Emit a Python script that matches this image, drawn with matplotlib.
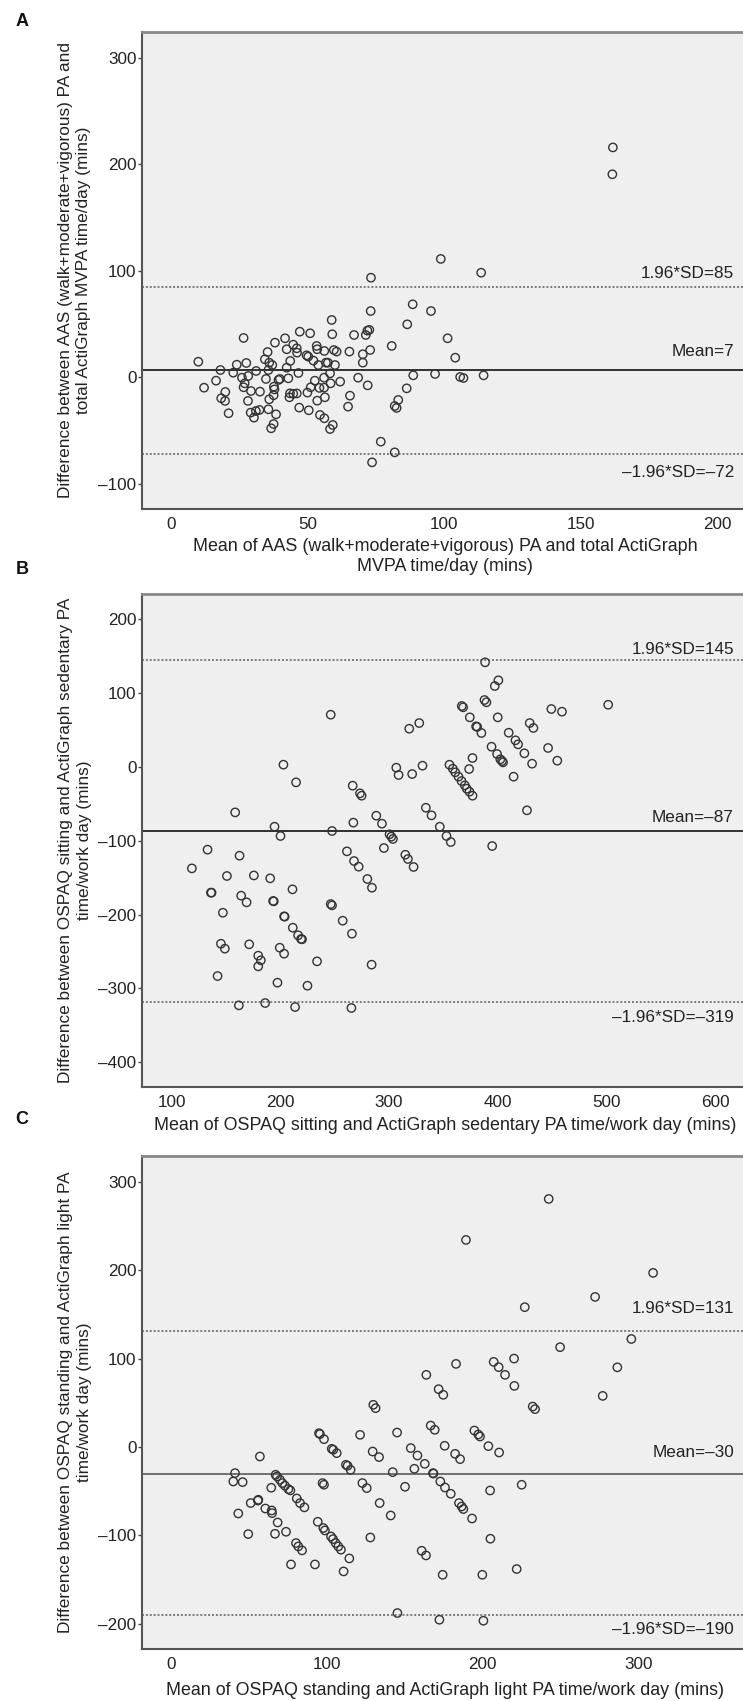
import matplotlib
matplotlib.use("Agg")
import matplotlib.pyplot as plt

plt.rcParams['font.family'] = ['Liberation Sans', 'DejaVu Sans']

# ---- panel A data (mean, difference) ----
a_mean = [9.8, 11.9, 16.3, 17.9, 19.7, 18.2, 19.6, 20.9, 22.6, 23.9, 26.4, 25.8, 26.4, 27.4, 28.1,
          26.8, 29.1, 28.0, 29.0, 30.2, 30.9, 32.2, 31.0, 32.4, 34.2, 35.2, 35.8, 36.9, 35.5, 34.6,
          35.8, 35.5, 37.4, 36.5, 38.3, 37.9, 39.2, 37.5, 37.7, 37.4, 39.7, 41.6, 42.2, 42.2, 42.8,
          43.5, 44.6, 45.9, 46.0, 46.5, 43.4, 43.2, 44.6, 45.9, 46.8, 47.0, 50.8, 49.5, 50.1, 52.0,
          53.2, 53.4, 53.8, 52.5, 51.0, 49.8, 50.3, 53.4, 54.2, 54.4, 56.0, 56.6, 55.9, 55.9, 56.2,
          56.0, 57.3, 58.7, 58.9, 59.5, 60.5, 59.9, 58.1, 58.3, 59.1, 58.1, 61.8, 65.2, 66.9, 65.4,
          64.7, 68.4, 70.1, 70.1, 71.2, 71.8, 72.5, 72.8, 73.0, 71.9, 80.7, 76.7, 81.8, 73.5, 81.8,
          82.5, 83.1, 86.2, 86.4, 88.4, 88.6, 95.1, 96.6, 101.2, 104.0, 105.8, 107.0, 114.4, 98.7,
          73.1, 113.5, 161.8, 161.6]
a_diff = [14.8, -9.6, -3.0, 7.0, -13.6, -19.5, -22.0, -33.6, 4.5, 12.0, 37.1, -0.2, -9.2, 13.6, 1.4,
          -5.5, -12.7, -22.0, -33.0, -37.7, -31.5, -30.5, 6.1, -13.3, 17.1, 23.9, 13.9, 11.7, 7.0, -1.4,
          -20.5, -29.9, -43.7, -47.7, -34.6, 32.7, -2.3, -8.6, -11.2, -16.7, -1.4, 36.8, 26.5, 9.2, -0.8,
          15.5, 30.8, 27.4, 23.3, 4.2, -14.9, -18.6, -15.3, -15.0, -28.3, 43.0, 41.5, 20.8, 19.6, 15.8,
          29.6, 26.5, 11.7, -3.0, -9.2, -14.2, -30.8, -21.8, -9.8, -35.2, 24.9, 13.9, -0.2, -9.6, -18.6,
          -38.3, 13.9, 54.0, 40.6, 25.8, 24.3, 11.7, 3.9, -5.5, -44.6, -48.4, -3.9, 24.3, 39.9, -17.1,
          -27.4, -0.2, 21.8, 13.9, 39.9, 44.0, 44.7, 25.8, 62.4, -7.4, 29.6, -60.3, -70.3, -79.7, -26.8,
          -28.6, -21.1, -10.2, 49.9, 68.7, 2.0, 62.4, 3.3, 36.8, 18.6, 0.5, -0.5, 2.0, 111.3,
          93.7, 98.4, 216.0, 190.8]
a_lines = [85, 7, -72]

# ---- panel B data ----
b_mean = [246.4, 202.9, 214.5, 158.5, 194.7, 200.2, 133.1, 162.5, 118.7, 150.9, 175.7, 190.7, 136.8,
          136.2, 164.0, 169.0, 193.4, 194.0, 211.2, 147.2, 203.5, 204.0, 211.5, 216.4, 219.1, 220.0,
          145.4, 149.0, 171.4, 179.7, 182.1, 179.7, 199.5, 203.5, 233.8, 142.3, 197.4, 225.0, 161.9,
          186.1, 213.6, 265.4, 247.6, 266.6, 273.3, 274.8, 267.2, 288.3, 293.5, 300.5, 302.1, 303.6,
          295.3, 261.3, 267.8, 272.1, 280.1, 284.3, 246.4, 247.6, 257.4, 265.9, 284.0, 306.7, 308.8,
          388.4, 400.6, 397.3, 387.8, 389.6, 366.9, 368.2, 374.3, 400.0, 380.1, 381.1, 385.0, 318.6,
          327.8, 449.3, 459.1, 501.6, 429.4, 432.8, 410.1, 416.3, 418.7, 424.5, 431.6, 446.3, 454.8,
          394.3, 399.4, 402.4, 404.0, 404.9, 414.6, 426.9, 376.8, 373.7, 355.6, 358.7, 360.9, 363.9,
          366.7, 369.7, 371.5, 374.0, 376.8, 321.3, 330.8, 333.9, 339.1, 346.7, 352.9, 356.8, 394.9,
          315.0, 317.4, 322.6]
b_diff = [70.9, 3.2, -20.8, -61.5, -80.9, -93.5, -112.0, -120.2, -137.4, -147.7, -147.0, -150.9, -170.3,
          -170.3, -174.4, -183.4, -181.6, -182.0, -165.8, -197.5, -202.4, -202.8, -217.8, -228.1, -233.1,
          -233.5, -239.5, -246.2, -240.3, -255.7, -262.0, -270.2, -244.9, -253.0, -263.4, -283.3, -292.3,
          -296.4, -323.0, -319.9, -325.3, -326.6, -86.7, -25.3, -35.7, -38.9, -75.4, -66.0, -76.8, -91.2,
          -94.4, -97.5, -109.8, -114.3, -127.4, -135.1, -151.8, -163.6, -185.7, -187.5, -208.3, -225.9,
          -267.9, -0.9, -10.8,
          141.9, 117.5, 109.8, 90.8, 87.7, 82.7, 80.9, 67.3, 67.3, 55.1, 54.4, 46.1, 51.9,
          59.6, 78.6, 75.0, 84.4, 59.6, 52.9, 46.5, 36.2, 30.7, 18.6, 4.5, 25.8, 8.6,
          27.5, 17.6, 10.4, 8.1, 6.3, -13.1, -58.7, 12.2, -2.7, 3.1, -2.3, -7.2, -13.1,
          -19.0, -24.8, -29.4, -33.5, -38.9, -9.5, 1.8, -55.2, -65.5, -80.9, -93.5, -101.7, -107.1,
          -118.9, -124.7, -135.5]
b_lines = [145, -87, -319]

# ---- panel C data ----
c_mean = [40.8, 39.7, 45.7, 56.8, 42.9, 49.3, 50.9, 55.8, 55.5, 60.3, 64.4, 64.6, 64.1, 68.2, 66.5,
          73.6, 66.9, 67.8, 69.7, 71.2, 72.9, 75.1, 76.4, 80.5, 82.6, 85.4, 80.0, 81.5, 83.9, 76.8,
          92.2, 94.8, 95.4, 98.0, 103.0, 104.0, 106.2, 112.1, 113.2, 115.1, 97.1, 98.0, 94.0, 97.6,
          98.6, 102.5, 103.8, 105.5, 107.2, 108.9, 114.3, 110.6, 121.2, 122.7, 125.5, 129.3, 133.4,
          133.8, 127.8, 129.7, 131.2, 145.0, 142.2, 150.1, 140.9, 145.2, 153.8, 158.1, 156.1, 162.8,
          168.1, 168.4, 172.8, 175.8, 179.5, 160.8, 163.6, 174.3, 172.2, 166.6, 169.2, 175.6, 182.3,
          185.5, 184.8, 186.5, 187.6, 193.2, 194.7, 197.2, 198.3, 203.7, 210.6, 204.8, 205.0, 199.8,
          200.5, 221.9, 225.1, 242.5, 189.3, 309.6, 272.3, 227.1, 295.6, 249.8, 286.6, 277.2, 163.8,
          182.9, 171.7, 174.7, 207.1, 210.3, 214.4, 220.2, 220.4, 232.2, 233.7]
c_diff = [-29.4, -38.9, -39.6, -10.6, -75.1, -98.4, -63.3, -59.6, -60.5, -69.5, -71.7, -74.7, -46.0,
          -85.3, -98.1, -95.8, -31.3, -33.2, -37.0, -40.7, -43.7, -47.5, -49.0, -58.1, -63.3, -68.2,
          -108.6, -112.4, -116.9, -132.8, -132.8, 15.8, 14.7, 9.0, -1.9, -3.0, -6.8, -20.0, -21.1,
          -25.7, -40.7, -42.6, -84.5, -91.6, -94.3, -101.1, -104.1, -108.6, -112.4, -116.1, -126.0,
          -140.7, 13.9, -40.7, -46.4, -5.0, -11.3, -63.3, -102.3, 47.9, 44.1, 16.5, -28.3, -44.9,
          -77.4, -187.8, -1.1, -9.5, -24.5, -18.9, -29.4, -30.0, -38.9, -45.7, -52.8, -117.3, -122.6,
          -144.5, -195.4, 24.4, 19.6, 1.5, -7.6, -13.6, -63.3, -67.2, -70.1, -80.8, 18.8, 14.3, 12.0,
          1.1, -6.1, -49.1, -103.7, -144.5, -196.5, -138.0, -42.6, 280.9, 234.5, 197.2, 170.0, 158.4,
          122.4, 113.1, 90.3, 58.0, 81.8, 94.2, 65.6, 59.2, 96.5, 90.5, 81.8, 100.2, 69.3, 45.9, 43.0]
c_lines = [131, -30, -190]

W, H = 743, 1701
fig = plt.figure(figsize=(W / 100, H / 100), dpi=100)


def fy(py):
    return 1 - py / H


def panel(top, bottom, x, y, lines, xlim, ylim, xticks, yticks, xlabel, ylabel,
          letter, letter_y, xlabel_y, offs, mean_color):
    ax = fig.add_axes([142 / W, fy(bottom), (W - 142) / W, (bottom - top) / H])
    ax.set_facecolor('#efefef')
    ax.scatter(x, y, s=36, facecolors='none', edgecolors='#333333', linewidths=1.0, zorder=3)
    sd_hi, mean, sd_lo = lines
    ax.axhline(sd_hi, color='#7a7a7a', lw=1.4, ls=(0, (1, 1)), zorder=2)
    ax.axhline(sd_lo, color='#7a7a7a', lw=1.4, ls=(0, (1, 1)), zorder=2)
    ax.axhline(mean, color=mean_color, lw=1.3, zorder=2)
    fmt = lambda v: str(v).replace('-', '\u2013')
    ax.annotate('1.96*SD=' + fmt(sd_hi), (0.985, sd_hi), xycoords=('axes fraction', 'data'),
                xytext=(0, offs[0] * 0.72), textcoords='offset points',
                ha='right', va='center', fontsize=12.3, color='#222')
    ax.annotate('Mean=' + fmt(mean), (0.985, mean), xycoords=('axes fraction', 'data'),
                xytext=(0, offs[1] * 0.72), textcoords='offset points',
                ha='right', va='center', fontsize=12.3, color='#222')
    ax.annotate('\u20131.96*SD=' + fmt(sd_lo), (0.985, sd_lo), xycoords=('axes fraction', 'data'),
                xytext=(0, -offs[2] * 0.72), textcoords='offset points',
                ha='right', va='center', fontsize=12.3, color='#222')
    ax.set_xlim(xlim)
    ax.set_ylim(ylim)
    ax.set_xticks(xticks)
    ax.set_yticks(yticks)
    ax.set_xticklabels([fmt(t) for t in xticks])
    ax.set_yticklabels([fmt(t) for t in yticks])
    ax.tick_params(axis='y', length=3, width=1, color='#444', pad=1, labelsize=12.3, labelcolor='#222')
    ax.tick_params(axis='x', length=0, pad=6, labelsize=12.3, labelcolor='#222')
    for s in ['left', 'bottom']:
        ax.spines[s].set_color('#555')
        ax.spines[s].set_linewidth(1.5)
    ax.spines['top'].set_color('#888')
    ax.spines['top'].set_linewidth(2)
    ax.spines['right'].set_visible(False)
    fig.text(445 / W, fy(xlabel_y), xlabel, ha='center', va='top', fontsize=12.9,
             color='#222', linespacing=1.2)
    fig.text(75 / W, fy((top + bottom) / 2), ylabel, ha='center', va='center', rotation=90,
             fontsize=12.4, color='#222', linespacing=1.25)
    fig.text(22 / W, fy(letter_y), letter, ha='center', va='center', fontsize=13,
             fontweight='bold', color='#111')
    return ax


panel(32, 509, a_mean, a_diff, a_lines, (-10.85, 209.5), (-123.5, 324.4),
      [0, 50, 100, 150, 200], [-100, 0, 100, 200, 300],
      'Mean of AAS (walk+moderate+vigorous) PA and total ActiGraph\nMVPA time/day (mins)',
      'Difference between AAS (walk+moderate+vigorous) PA and\ntotal ActiGraph MVPA time/day (mins)',
      'A', 21, 538, (13, 19, 18), '#222')

panel(594, 1087, b_mean, b_diff, b_lines, (72.8, 625.6), (-433.7, 234.5),
      [100, 200, 300, 400, 500, 600], [-400, -300, -200, -100, 0, 100, 200],
      'Mean of OSPAQ sitting and ActiGraph sedentary PA time/work day (mins)',
      'Difference between OSPAQ sitting and ActiGraph sedentary PA\ntime/work day (mins)',
      'B', 569, 1117, (11, 14, 15), '#222')

panel(1156, 1649, c_mean, c_diff, c_lines, (-19, 367.4), (-228.5, 329.5),
      [0, 100, 200, 300], [-200, -100, 0, 100, 200, 300],
      'Mean of OSPAQ standing and ActiGraph light PA time/work day (mins)',
      'Difference between OSPAQ standing and ActiGraph light PA\ntime/work day (mins)',
      'C', 1120, 1682, (23, 21, 15), '#666')

fig.savefig('out.png', dpi=100)
